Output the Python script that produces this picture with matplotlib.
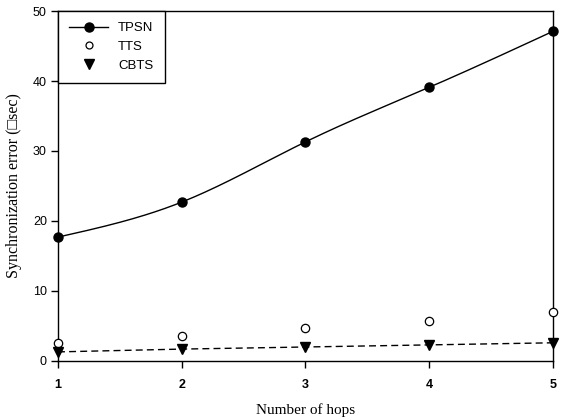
import numpy as np
import matplotlib
matplotlib.use("Agg")
import matplotlib.pyplot as plt

hops = [1, 2, 3, 4, 5]
tpsn = [17.7, 22.7, 31.3, 39.1, 47.1]
tts = [2.6, 3.6, 4.7, 5.7, 7.0]
cbts = [1.3, 1.7, 2.0, 2.3, 2.6]


def natural_spline(x, y, n=200):
    x = np.asarray(x, float); y = np.asarray(y, float)
    m = len(x); h = np.diff(x)
    A = np.zeros((m, m)); b = np.zeros(m)
    A[0, 0] = A[-1, -1] = 1
    for i in range(1, m - 1):
        A[i, i - 1] = h[i - 1]; A[i, i] = 2 * (h[i - 1] + h[i]); A[i, i + 1] = h[i]
        b[i] = 3 * ((y[i + 1] - y[i]) / h[i] - (y[i] - y[i - 1]) / h[i - 1])
    c = np.linalg.solve(A, b)
    xs = np.linspace(x[0], x[-1], n); ys = np.empty_like(xs)
    for k, xv in enumerate(xs):
        i = min(np.searchsorted(x, xv, side="right") - 1, m - 2)
        dx = xv - x[i]
        bb = (y[i + 1] - y[i]) / h[i] - h[i] * (2 * c[i] + c[i + 1]) / 3
        d = (c[i + 1] - c[i]) / (3 * h[i])
        ys[k] = y[i] + bb * dx + c[i] * dx ** 2 + d * dx ** 3
    return xs, ys


fig = plt.figure(figsize=(5.73, 4.2), dpi=100)
ax = fig.add_axes([0.1012, 0.1405, 0.8639, 0.8333])

xs, ys = natural_spline(hops, tpsn)
ax.plot(xs, ys, color="black", lw=1.0)
ax.plot(hops, tpsn, "o", color="black", ms=6.5, clip_on=False, zorder=5)
ax.plot(hops, tts, "o", mfc="white", mec="black", ms=6, mew=0.9, clip_on=False, zorder=5)
ax.plot(hops, cbts, "--", color="black", lw=1.0, dashes=(5, 3))
ax.plot(hops, cbts, "v", color="black", ms=7, clip_on=False, zorder=5)

h1, = ax.plot([], [], "-o", color="black", ms=6.5, lw=1.0)
h2, = ax.plot([], [], "o", mfc="white", mec="black", ms=5, mew=0.9)
h3, = ax.plot([], [], "v", color="black", ms=7)
leg = ax.legend([h1, h2, h3], ["TPSN", "TTS", "CBTS"], loc="upper left",
                borderaxespad=0, fancybox=False, framealpha=1, edgecolor="black",
                prop={"family": "Liberation Sans", "size": 9.5}, handlelength=2.95,
                borderpad=0.85, labelspacing=0.48, handletextpad=0.76)
leg.get_frame().set_linewidth(1.0)

ax.set_xlim(1, 5)
ax.set_ylim(0, 50)
ax.set_xticks(hops)
ax.set_yticks([0, 10, 20, 30, 40, 50])
for lab in ax.get_xticklabels():
    lab.set_fontfamily("Liberation Sans"); lab.set_fontweight("bold"); lab.set_fontsize(9)
for lab in ax.get_yticklabels():
    lab.set_fontfamily("Liberation Sans"); lab.set_fontsize(9)
ax.tick_params(direction="out", length=5, width=1)
ax.tick_params(axis="x", pad=8)
ax.tick_params(axis="y", pad=3)
for s in ax.spines.values():
    s.set_linewidth(1.0)

ax.set_xlabel("Number of hops", fontfamily="Liberation Serif", fontsize=11, labelpad=9)
ax.set_ylabel("Synchronization error (\u25a1sec)", fontfamily=["Liberation Serif", "DejaVu Sans"],
              fontsize=11.5, labelpad=8)

fig.savefig("out.png", dpi=100)
